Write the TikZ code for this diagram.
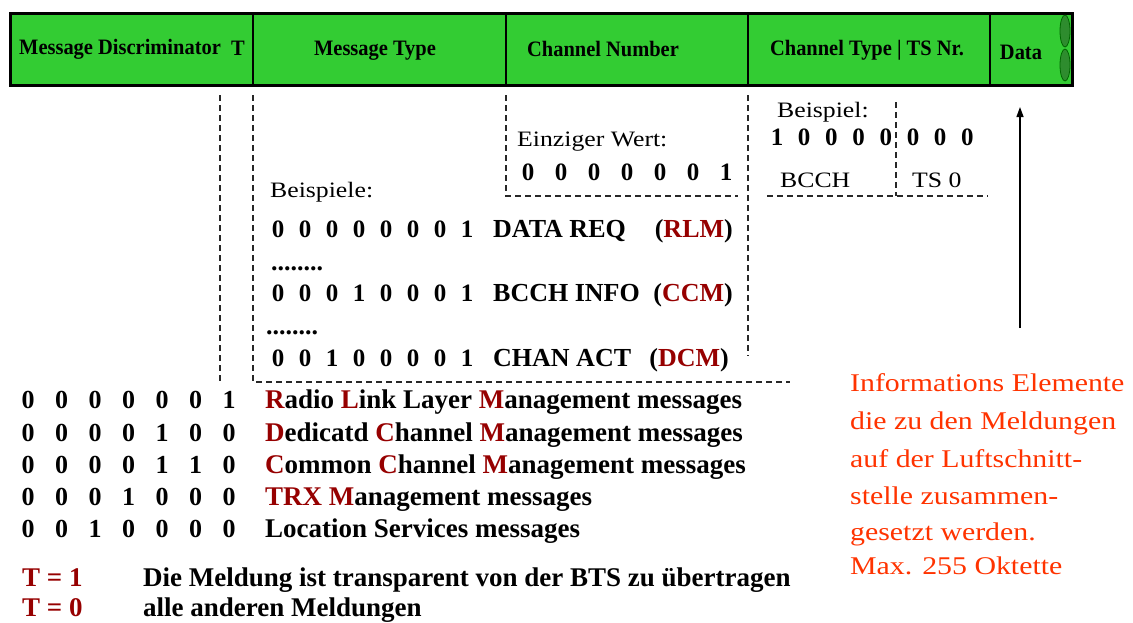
\documentclass[tikz,border=0pt]{standalone}
\usepackage{fontspec}
\setmainfont{Liberation Serif}
\newfontfamily\hdrfont{Liberation Serif}[FakeStretch=0.93]
\newfontfamily\widefont{Liberation Serif}[FakeStretch=1.17]
\usetikzlibrary{arrows.meta}
\definecolor{bargreen}{RGB}{51,204,51}
\definecolor{ovalgreen}{RGB}{46,140,46}
\definecolor{dred}{RGB}{150,0,0}
\definecolor{ored}{RGB}{255,51,0}
\definecolor{dashgray}{RGB}{40,40,40}
\tikzset{
  hdr/.style={font=\hdrfont\fontsize{22}{26}\selectfont\bfseries, inner sep=0pt},
  bit/.style={font=\fontsize{25}{30}\selectfont\bfseries, inner sep=0pt, anchor=base},
  rowtxt/.style={font=\fontsize{26}{30}\selectfont\bfseries, inner sep=0pt, anchor=base west},
  rowend/.style={font=\fontsize{26}{30}\selectfont\bfseries, inner sep=0pt, anchor=base east},
  wtxt/.style={font=\widefont\fontsize{22}{26}\selectfont, inner sep=0pt, anchor=base west},
  lbit/.style={font=\fontsize{26}{30}\selectfont\bfseries, inner sep=0pt, anchor=base},
  ltxt/.style={font=\fontsize{27}{30}\selectfont\bfseries, inner sep=0pt, anchor=base west},
  note/.style={font=\widefont\fontsize{25.5}{30}\selectfont, text=ored, inner sep=0pt, anchor=base west},
  dline/.style={draw=dashgray, line width=1.2pt, dash pattern=on 6pt off 4pt},
}
\begin{document}
\begin{tikzpicture}[x=1pt,y=-1pt]
\useasboundingbox (0,0) rectangle (1133,622);

% ---- header strip of the RSL message frame ----
\draw[fill=bargreen, line width=3pt] (10,13) rectangle (1072,85);
\foreach \xx in {253,506,748,990}
  \draw[line width=2pt] (\xx,13) -- (\xx,85);
\draw[fill=ovalgreen, draw=black!60!green, line width=0.8pt] (1065,31) ellipse [x radius=5, y radius=16];
\draw[fill=ovalgreen, draw=black!60!green, line width=0.8pt] (1065,65) ellipse [x radius=5, y radius=16];

\node[hdr, anchor=west] (hmd) at (19,49) {Message Discriminator};
\node[hdr] (ht) at (238,48) {T};
\node[hdr] (hmt) at (375,51) {Message Type};
\node[hdr] (hcn) at (603,49) {Channel Number};
\node[hdr] (hct) at (867,50) {Channel Type | TS Nr.};
\node[hdr] (hd) at (1021,52) {Data};

% ---- dashed guide lines ----
\coordinate (a1) at (220,95);  \coordinate (a2) at (220,382);
\coordinate (b1) at (253,95);  \coordinate (b2) at (253,382); \coordinate (b3) at (790,382);
\coordinate (c1) at (506,95);  \coordinate (c2) at (506,196); \coordinate (c3) at (738,196);
\coordinate (d1) at (748,95);  \coordinate (d2) at (748,356);
\coordinate (e1) at (896,102); \coordinate (e2) at (896,196);
\coordinate (f1) at (767,196); \coordinate (f2) at (988,196);
\draw[dline] (a1) -- (a2);
\draw[dline] (b1) -- (b2) -- (b3);
\draw[dline] (c1) -- (c2) -- (c3);
\draw[dline] (d1) -- (d2);
\draw[dline] (e1) -- (e2);
\draw[dline] (f1) -- (f2);

% ---- arrow to the data field ----
\coordinate (arrtail) at (1020,328);
\coordinate (arrhead) at (1020,107);
\draw[line width=1.3pt, -{Triangle[length=10pt,width=7pt]}] (arrtail) -- (arrhead);

% ---- channel number ----
\node[wtxt] (ew) at (517,146) {Einziger Wert:};
\foreach \b [count=\i] in {0,0,0,0,0,0,1}
  \node[bit, name=cn\i] at ({528+(\i-1)*33},180) {\b};

% ---- message type examples ----
\node[wtxt] (bsp) at (270,197) {Beispiele:};
\foreach \b [count=\i] in {0,0,0,0,0,0,0,1}
  \node[bit, name=ra\i] at ({278+(\i-1)*27},237) {\b};
\node[rowtxt] (rat) at (493,237) {DATA REQ};
\node[rowend] (rae) at (733,237) {(\textcolor{dred}{RLM})};
\node[rowtxt] (dots1) at (271,270) {........};
\foreach \b [count=\i] in {0,0,0,1,0,0,0,1}
  \node[bit, name=rb\i] at ({278+(\i-1)*27},301) {\b};
\node[rowtxt] (rbt) at (493,301) {BCCH INFO};
\node[rowend] (rbe) at (733,301) {(\textcolor{dred}{CCM})};
\node[rowtxt] (dots2) at (266,334) {........};
\foreach \b [count=\i] in {0,0,1,0,0,0,0,1}
  \node[bit, name=rc\i] at ({278+(\i-1)*27},366) {\b};
\node[rowtxt] (rct) at (493,366) {CHAN ACT};
\node[rowend] (rce) at (729,366) {(\textcolor{dred}{DCM})};

% ---- channel type / time slot example ----
\node[wtxt] (bsp2) at (777,117) {Beispiel:};
\foreach \b [count=\i] in {1,0,0,0,0,0,0,0}
  \node[bit, name=ct\i] at ({777+(\i-1)*27.2},145) {\b};
\node[wtxt] (bcch) at (780,187) {BCCH};
\node[wtxt] (ts) at (912,187) {TS 0};

% ---- message discriminator values ----
\foreach \b [count=\i] in {0,0,0,0,0,0,1}
  \node[lbit, name=la\i] at ({28+(\i-1)*33.5},408) {\b};
\node[ltxt] (lat) at (265,408) {\textcolor{dred}{R}adio \textcolor{dred}{L}ink Layer \textcolor{dred}{M}anagement messages};
\foreach \b [count=\i] in {0,0,0,0,1,0,0}
  \node[lbit, name=lb\i] at ({28+(\i-1)*33.5},441) {\b};
\node[ltxt] (lbt) at (265,441) {\textcolor{dred}{D}edicatd \textcolor{dred}{C}hannel \textcolor{dred}{M}anagement messages};
\foreach \b [count=\i] in {0,0,0,0,1,1,0}
  \node[lbit, name=lc\i] at ({28+(\i-1)*33.5},473) {\b};
\node[ltxt] (lct) at (265,473) {\textcolor{dred}{C}ommon \textcolor{dred}{C}hannel \textcolor{dred}{M}anagement messages};
\foreach \b [count=\i] in {0,0,0,1,0,0,0}
  \node[lbit, name=ld\i] at ({28+(\i-1)*33.5},505) {\b};
\node[ltxt] (ldt) at (265,505) {\textcolor{dred}{TRX M}anagement messages};
\foreach \b [count=\i] in {0,0,1,0,0,0,0}
  \node[lbit, name=le\i] at ({28+(\i-1)*33.5},537) {\b};
\node[ltxt] (let) at (265,537) {Location Services messages};

% ---- transparency flag ----
\node[ltxt, text=dred] (t1) at (22,586) {T = 1};
\node[ltxt] (t1t) at (143,586) {Die Meldung ist transparent von der BTS zu übertragen};
\node[ltxt, text=dred] (t0) at (22,616) {T = 0};
\node[ltxt] (t0t) at (143,616) {alle anderen Meldungen};

% ---- information elements note ----
\node[note] (n1) at (850,391) {Informations Elemente};
\node[note] (n2) at (850,429) {die zu den Meldungen};
\node[note] (n3) at (850,467) {auf der Luftschnitt-};
\node[note] (n4) at (850,504) {stelle zusammen-};
\node[note] (n5) at (850,540) {gesetzt werden.};
\node[note] (n6) at (850,574) {Max. 255 Oktette};
\end{tikzpicture}
\end{document}
